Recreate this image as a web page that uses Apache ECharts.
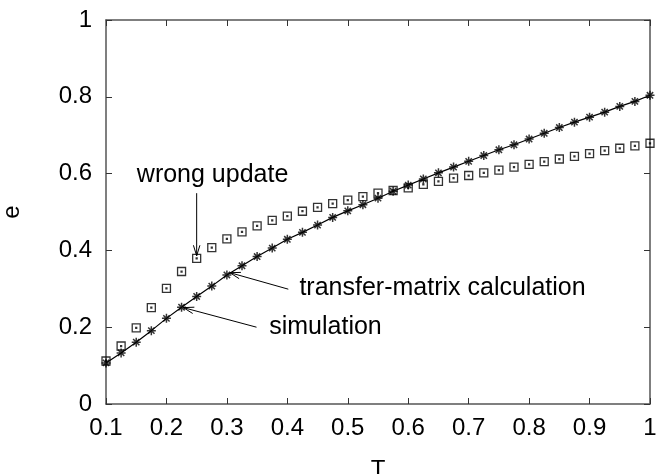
<!DOCTYPE html>
<html>
<head>
<meta charset="utf-8">
<script src="https://cdn.jsdelivr.net/npm/echarts@6/dist/echarts.min.js"></script>
<style>
  html, body { margin: 0; padding: 0; background: #fff; }
  #chart { width: 658px; height: 474px; }
</style>
</head>
<body>
<div id="chart"></div>
<script>
// temperatures T
const temps = [
  0.1, 0.125, 0.15, 0.175, 0.2, 0.225, 0.25, 0.275, 0.3, 0.325,
  0.35, 0.375, 0.4, 0.425, 0.45, 0.475, 0.5, 0.525, 0.55, 0.575,
  0.6, 0.625, 0.65, 0.675, 0.7, 0.725, 0.75, 0.775, 0.8, 0.825,
  0.85, 0.875, 0.9, 0.925, 0.95, 0.975, 1.0
];
// simulation (stars)
const simulation = [
  0.107, 0.133, 0.161, 0.191, 0.223, 0.252, 0.280, 0.307, 0.336, 0.360,
  0.384, 0.406, 0.429, 0.447, 0.466, 0.486, 0.503, 0.519, 0.536, 0.554,
  0.570, 0.586, 0.602, 0.617, 0.632, 0.647, 0.662, 0.675, 0.690, 0.705,
  0.720, 0.734, 0.747, 0.760, 0.775, 0.788, 0.804
];
// transfer-matrix calculation (solid line)
const transferMatrix = [
  0.107, 0.133, 0.161, 0.191, 0.223, 0.252, 0.280, 0.307, 0.336, 0.360,
  0.384, 0.406, 0.429, 0.447, 0.466, 0.486, 0.503, 0.519, 0.536, 0.554,
  0.570, 0.586, 0.602, 0.617, 0.632, 0.647, 0.662, 0.675, 0.690, 0.705,
  0.720, 0.734, 0.747, 0.760, 0.775, 0.788, 0.804
];
// wrong update (squares)
const wrongUpdate = [
  0.112, 0.151, 0.198, 0.251, 0.301, 0.345, 0.379, 0.407, 0.430, 0.448,
  0.464, 0.478, 0.489, 0.502, 0.512, 0.522, 0.531, 0.540, 0.549, 0.556,
  0.563, 0.572, 0.580, 0.588, 0.595, 0.602, 0.609, 0.617, 0.624, 0.631,
  0.638, 0.645, 0.652, 0.660, 0.666, 0.672, 0.679
];
const xTicks = ["0.1", "0.2", "0.3", "0.4", "0.5", "0.6", "0.7", "0.8", "0.9", "1"];
const yTicks = ["0", "0.2", "0.4", "0.6", "0.8", "1"];

// annotations: text anchor and arrow (from -> tip), in data coords
const notes = [
  { text: "wrong update", at: [0.151, 0.596], from: [0.25, 0.549], to: [0.25, 0.386] },
  { text: "transfer-matrix calculation", at: [0.42, 0.302], from: [0.4016, 0.299], to: [0.305, 0.342] },
  { text: "simulation", at: [0.37, 0.2005], from: [0.349, 0.200], to: [0.228, 0.251] }
];

const font = "'Liberation Sans', Arial, Helvetica, sans-serif";
const axisColor = "#555";

const pairs = (ys) => temps.map((t, i) => [t, ys[i]]);

const chart = echarts.init(document.getElementById("chart"), null, { renderer: "canvas" });

const baseAxis = {
  axisLine: { show: true, onZero: false, lineStyle: { color: axisColor, width: 1.5 } },
  axisTick: { show: true, inside: true, length: 6, lineStyle: { color: "#333", width: 1 } },
  splitLine: { show: false },
};

const option = {
  animation: false,
  backgroundColor: "#fff",
  grid: { left: 106, right: 8, top: 20, bottom: 70, containLabel: false, outerBoundsMode: "none" },
  xAxis: [
    Object.assign({}, baseAxis, {
      type: "value", min: 0.1, max: 1, interval: 0.1, position: "bottom",
      name: "T", nameLocation: "middle", nameGap: 54,
      nameTextStyle: { fontFamily: font, fontSize: 24, color: "#000" },
      axisLabel: {
        fontFamily: font, fontSize: 24, color: "#000", margin: 12,
        formatter: (v) => xTicks[Math.round((v - 0.1) * 10)] || ""
      }
    }),
    Object.assign({}, baseAxis, {
      type: "value", min: 0.1, max: 1, interval: 0.1, position: "top",
      axisLabel: { show: false }
    })
  ],
  yAxis: [
    Object.assign({}, baseAxis, {
      type: "value", min: 0, max: 1, interval: 0.2, position: "left",
      name: "e", nameLocation: "middle", nameGap: 82, nameRotate: 90,
      nameTextStyle: { fontFamily: font, fontSize: 24, color: "#000" },
      axisLabel: {
        fontFamily: font, fontSize: 24, color: "#000", margin: 14,
        formatter: (v) => yTicks[Math.round(v * 5)] || ""
      }
    }),
    Object.assign({}, baseAxis, {
      type: "value", min: 0, max: 1, interval: 0.2, position: "right",
      axisLabel: { show: false }
    })
  ],
  series: [
    {
      name: "transfer-matrix calculation",
      type: "line",
      data: pairs(transferMatrix),
      showSymbol: false,
      symbol: "none",
      lineStyle: { color: "#000", width: 1.2 },
      z: 2
    },
    {
      name: "wrong update",
      type: "scatter",
      data: pairs(wrongUpdate),
      symbol: "path://M0,0 L10,0 L10,10 L0,10 Z M4.4,4.4 L5.6,4.4 L5.6,5.6 L4.4,5.6 Z",
      symbolSize: 8,
      itemStyle: { color: "rgba(0,0,0,0)", borderColor: "#000", borderWidth: 1.3 },
      z: 3
    },
    {
      name: "simulation",
      type: "scatter",
      data: pairs(simulation),
      symbol: "path://M0,5 L10,5 M5,0 L5,10 M1.5,1.5 L8.5,8.5 M8.5,1.5 L1.5,8.5",
      symbolSize: 9,
      itemStyle: { color: "rgba(0,0,0,0)", borderColor: "#000", borderWidth: 1.5 },
      z: 4
    }
  ]
};

chart.setOption(option);

// annotation text and arrows, placed through the axes
const px = (p) => chart.convertToPixel({ xAxisIndex: 0, yAxisIndex: 0 }, p);
const graphic = [];
notes.forEach((n) => {
  const a = px(n.at);
  graphic.push({
    type: "text", x: a[0], y: a[1], z: 10,
    style: { text: n.text, font: "25px " + font, fill: "#000", align: "left", verticalAlign: "middle" }
  });
  const s = px(n.from), t = px(n.to);
  graphic.push({
    type: "line", z: 10,
    shape: { x1: s[0], y1: s[1], x2: t[0], y2: t[1] },
    style: { stroke: "#000", lineWidth: 1 }
  });
  // open arrow head
  const ang = Math.atan2(s[1] - t[1], s[0] - t[0]);
  const len = 11, spread = 0.3;
  graphic.push({
    type: "polyline", z: 10,
    shape: {
      points: [
        [t[0] + len * Math.cos(ang + spread), t[1] + len * Math.sin(ang + spread)],
        [t[0], t[1]],
        [t[0] + len * Math.cos(ang - spread), t[1] + len * Math.sin(ang - spread)]
      ]
    },
    style: { stroke: "#000", lineWidth: 1, fill: null }
  });
});
chart.setOption({ graphic: graphic });
</script>
</body>
</html>
